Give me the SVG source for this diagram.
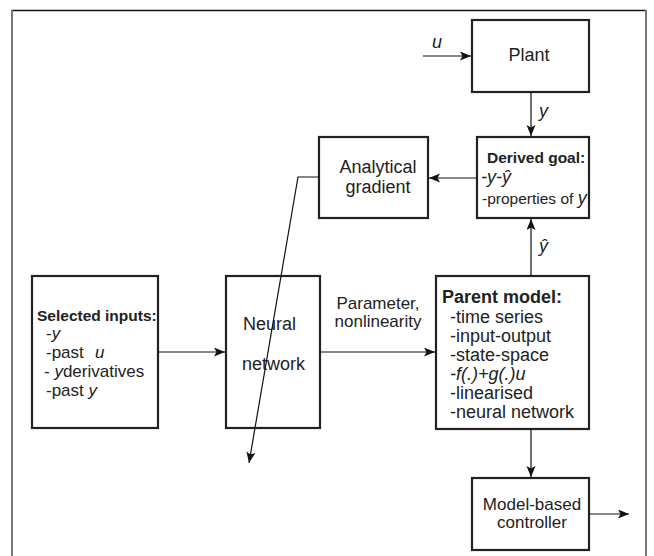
<svg xmlns="http://www.w3.org/2000/svg" width="654" height="556" viewBox="0 0 654 556">
<defs>
<marker id="ah" markerUnits="userSpaceOnUse" markerWidth="12" markerHeight="10" refX="11" refY="4.5" orient="auto">
<path d="M0,0 L11,4.5 L0,9 L2.5,4.5 z" fill="#111"/>
</marker>
<style>
.box{fill:#fff;stroke:#222;stroke-width:2.2}
.t{font-family:"Liberation Sans",Arial,sans-serif;font-size:18px;fill:#222}
.b{font-weight:bold}
.s{font-size:15.5px}
.m{font-size:17px}
.i{font-style:italic}
.c{text-anchor:middle}
.ln{fill:none;stroke:#111;stroke-width:1.2}
</style>
</defs>
<rect width="654" height="556" fill="#fff"/>
<g id="frame">
<line x1="11" y1="10.5" x2="646" y2="10.5" stroke="#111" stroke-width="1.5"/>
<line x1="12" y1="10" x2="12" y2="556" stroke="#777" stroke-width="2"/>
<line x1="646" y1="10" x2="646" y2="556" stroke="#777" stroke-width="2"/>
</g>
<g id="plant">
<rect class="box" x="472" y="20" width="117" height="72"/>
<text class="t c" x="529" y="61">Plant</text>
</g>
<g id="derived-goal">
<rect class="box" x="477" y="137" width="112" height="81"/>
<text class="t b s" x="487" y="163">Derived goal:</text>
<text class="t i" x="481" y="183">-y-ŷ</text>
<text class="t s" x="482" y="204">-properties of <tspan class="i" font-size="18">y</tspan></text>
</g>
<g id="analytical-gradient">
<rect class="box" x="319" y="137" width="109" height="81"/>
<text class="t c" x="378" y="173">Analytical</text>
<text class="t c" x="378" y="193">gradient</text>
</g>
<g id="selected-inputs">
<rect class="box" x="32" y="276" width="126" height="152"/>
<text class="t b s" x="37" y="321">Selected inputs:</text>
<text class="t m" x="46" y="339">-<tspan class="i">y</tspan></text>
<text class="t m" x="46" y="358">-past <tspan class="i" x="95">u</tspan></text>
<text class="t m" x="44" y="377">- <tspan class="i">y</tspan>derivatives</text>
<text class="t m" x="46" y="396">-past <tspan class="i">y</tspan></text>
</g>
<g id="neural-network">
<rect class="box" x="226" y="276" width="94" height="152"/>
<text class="t" x="243" y="330">Neural</text>
<text class="t" x="242" y="370">network</text>
</g>
<g id="parent-model">
<rect class="box" x="436" y="276" width="153" height="153"/>
<text class="t b" x="442" y="303">Parent model:</text>
<text class="t" x="450" y="323">-time series</text>
<text class="t" x="450" y="342">-input-output</text>
<text class="t" x="450" y="361">-state-space</text>
<text class="t i" x="450" y="380">-f(.)+g(.)u</text>
<text class="t" x="450" y="399">-linearised</text>
<text class="t" x="450" y="418">-neural network</text>
</g>
<g id="controller">
<rect class="box" x="472" y="478" width="117" height="72"/>
<text class="t c m" x="532" y="510">Model-based</text>
<text class="t c m" x="532" y="528">controller</text>
</g>
<g id="connectors">
<line class="ln" x1="423" y1="56" x2="471" y2="56" marker-end="url(#ah)"/>
<line class="ln" x1="531" y1="92" x2="531" y2="136" marker-end="url(#ah)"/>
<line class="ln" x1="477" y1="178" x2="429" y2="178" marker-end="url(#ah)"/>
<line class="ln" x1="531" y1="276" x2="531" y2="219" marker-end="url(#ah)"/>
<line class="ln" x1="158" y1="352" x2="225" y2="352" marker-end="url(#ah)"/>
<line class="ln" x1="320" y1="352" x2="435" y2="352" marker-end="url(#ah)"/>
<line class="ln" x1="531" y1="429" x2="531" y2="477" marker-end="url(#ah)"/>
<line class="ln" x1="589" y1="514" x2="629" y2="514" marker-end="url(#ah)"/>
<polyline class="ln" points="319,177 298,177 249,463" stroke-width="1" marker-end="url(#ah)"/>
<text class="t i" x="432" y="48">u</text>
<text class="t i" x="539" y="117">y</text>
<text class="t i" x="539" y="252">ŷ</text>
<text class="t c m" x="378" y="309">Parameter,</text>
<text class="t c m" x="378" y="327">nonlinearity</text>
</g>
</svg>
